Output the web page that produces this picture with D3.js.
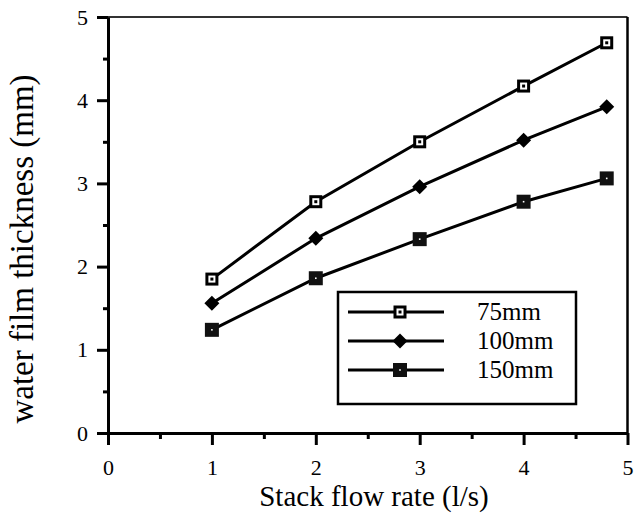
<!DOCTYPE html>
<meta charset="utf-8">
<script src="https://d3js.org/d3.v7.min.js"></script>
<style>
  body { margin: 0; background: #fff; }
</style>
<div id="my_dataviz"></div>
<script>

// data
var flowRate = [1, 2, 3, 4, 4.8];
var film75 = [1.85, 2.78, 3.50, 4.17, 4.69];
var film100 = [1.56, 2.34, 2.96, 3.52, 3.92];
var film150 = [1.24, 1.86, 2.33, 2.78, 3.06];
var seriesNames = ["75mm", "100mm", "150mm"];
var tickValues = [0, 1, 2, 3, 4, 5];

var width = 635, height = 513;
var serif = "'Liberation Serif', 'Times New Roman', Times, 'DejaVu Serif', serif";

var svg = d3.select("#my_dataviz")
  .append("svg")
    .attr("width", width)
    .attr("height", height)
    .attr("font-family", serif);

var x = d3.scaleLinear().domain([0, 5]).range([108, 627.5]);
var y = d3.scaleLinear().domain([0, 5]).range([433, 17]);

// frame: top + right
svg.append("line")
  .attr("x1", x(0) - 10).attr("x2", x(5))
  .attr("y1", y(5)).attr("y2", y(5))
  .attr("stroke", "#333").attr("stroke-width", 2);
svg.append("line")
  .attr("x1", x(5)).attr("x2", x(5))
  .attr("y1", y(5)).attr("y2", y(0))
  .attr("stroke", "#000").attr("stroke-width", 2.5);

// X axis
var xAxis = svg.append("g")
  .attr("transform", "translate(0," + y(0) + ")")
  .call(d3.axisBottom(x).tickValues(tickValues).tickSize(12).tickSizeOuter(0).tickFormat(d3.format("d")));
xAxis.attr("font-family", serif).attr("font-size", 22);
xAxis.select(".domain").attr("stroke-width", 3);
xAxis.selectAll(".tick line").attr("stroke-width", 3);
xAxis.selectAll(".tick text")
  .attr("y", 42)
  .attr("dy", null);
svg.append("g")
  .attr("transform", "translate(0," + y(0) + ")")
  .call(d3.axisBottom(x).tickValues([0.5, 1.5, 2.5, 3.5, 4.5]).tickSize(6).tickFormat(""))
  .call(function(g) { g.select(".domain").remove(); })
  .selectAll(".tick line").attr("stroke-width", 3);

// Y axis
var yAxis = svg.append("g")
  .attr("transform", "translate(" + x(0) + ",0)")
  .call(d3.axisLeft(y).tickValues(tickValues).tickSize(11).tickSizeOuter(0).tickFormat(d3.format("d")));
yAxis.attr("font-family", serif).attr("font-size", 22);
yAxis.select(".domain").attr("stroke-width", 3);
yAxis.selectAll(".tick line").attr("stroke-width", 3);
yAxis.selectAll(".tick text")
  .attr("x", -20);
svg.append("g")
  .attr("transform", "translate(" + x(0) + ",0)")
  .call(d3.axisLeft(y).tickValues([0.5, 1.5, 2.5, 3.5, 4.5]).tickSize(5).tickFormat(""))
  .call(function(g) { g.select(".domain").remove(); })
  .selectAll(".tick line").attr("stroke-width", 3);

// axis titles
svg.append("text")
  .attr("x", 374)
  .attr("y", 506)
  .attr("text-anchor", "middle")
  .attr("font-size", 29)
  .text("Stack flow rate (l/s)");

svg.append("text")
  .attr("transform", "translate(33,249)rotate(-90)")
  .attr("text-anchor", "middle")
  .attr("font-size", 33)
  .text("water film thickness (mm)");

// markers
function drawMarker(g, kind, cx, cy) {
  if (kind === 0) {
    g.append("rect").attr("x", cx - 6.5).attr("y", cy - 6.5).attr("width", 13).attr("height", 13).attr("fill", "#000");
    g.append("rect").attr("x", cx - 3.5).attr("y", cy - 3.5).attr("width", 7).attr("height", 7).attr("fill", "#fff");
    g.append("rect").attr("x", cx - 1.5).attr("y", cy - 1.5).attr("width", 3).attr("height", 3).attr("fill", "#000");
  } else if (kind === 1) {
    g.append("path")
      .attr("d", "M" + cx + "," + (cy - 7.5) + "L" + (cx + 7.5) + "," + cy + "L" + cx + "," + (cy + 7.5) + "L" + (cx - 7.5) + "," + cy + "Z")
      .attr("fill", "#000");
  } else {
    g.append("rect").attr("x", cx - 7).attr("y", cy - 7).attr("width", 14).attr("height", 14).attr("fill", "#111");
    g.append("rect").attr("x", cx - 0.8).attr("y", cy - 0.8).attr("width", 1.6).attr("height", 1.6).attr("fill", "#fff");
  }
}

var allSeries = [film75, film100, film150];
var line = d3.line()
  .x(function(d) { return x(d[0]); })
  .y(function(d) { return y(d[1]); });

allSeries.forEach(function(vals, k) {
  var pts = flowRate.map(function(f, i) { return [f, vals[i]]; });
  svg.append("path")
    .datum(pts)
    .attr("d", line)
    .attr("fill", "none")
    .attr("stroke", "#000")
    .attr("stroke-width", 3);
  var mg = svg.append("g");
  pts.forEach(function(p) { drawMarker(mg, k, x(p[0]), y(p[1])); });
});

// legend
var legend = svg.append("g");
legend.append("rect")
  .attr("x", 338).attr("y", 292)
  .attr("width", 238).attr("height", 112)
  .attr("fill", "#fff")
  .attr("stroke", "#000")
  .attr("stroke-width", 2.5);

seriesNames.forEach(function(name, k) {
  var ly = 312 + k * 29;
  legend.append("line")
    .attr("x1", 348).attr("x2", 444)
    .attr("y1", ly).attr("y2", ly)
    .attr("stroke", "#000").attr("stroke-width", 3);
  drawMarker(legend, k, 400, ly);
  legend.append("text")
    .attr("x", 477)
    .attr("y", ly + 8)
    .attr("font-size", 25)
    .text(name);
});

</script>
